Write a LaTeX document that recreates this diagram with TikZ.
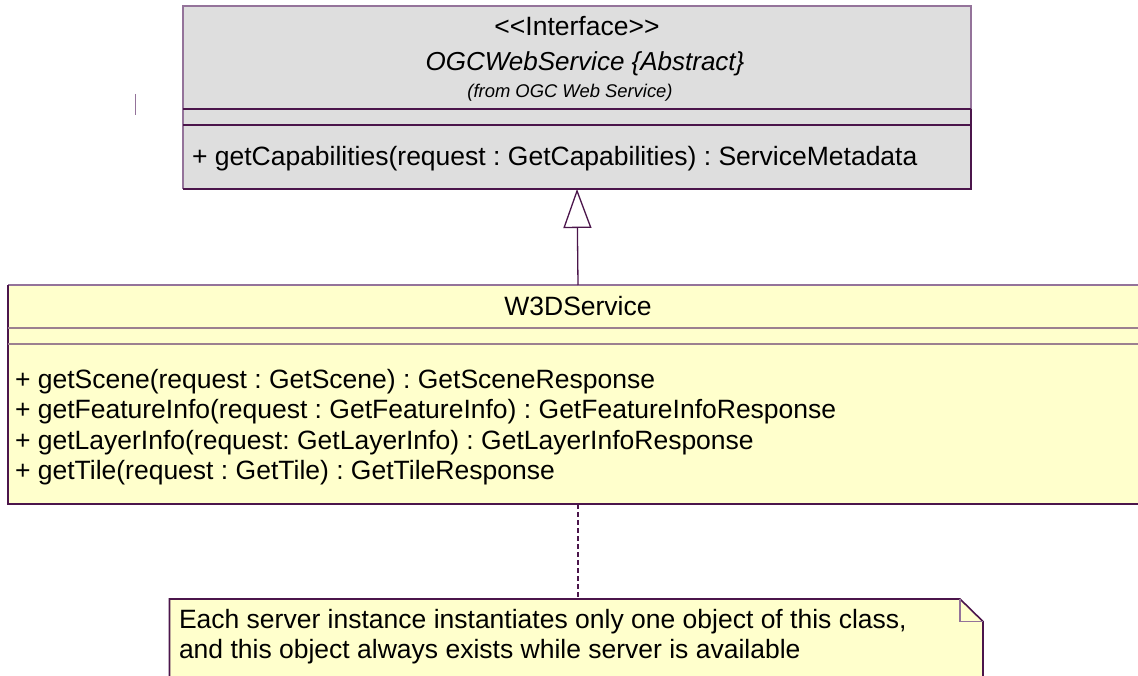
\documentclass[tikz,border=0pt]{standalone}
\usepackage{fontspec}
\setmainfont{Liberation Sans}
\usetikzlibrary{arrows.meta}
\definecolor{umlgray}{HTML}{DEDEDE}
\definecolor{umlyellow}{HTML}{FFFFCC}
\definecolor{edgedark}{HTML}{4B154B}
\definecolor{edgelight}{HTML}{94739A}
\definecolor{seplight}{HTML}{9C8090}
\frenchspacing
\begin{document}
\begin{tikzpicture}[x=1pt,y=-1pt,
  box/.style={inner sep=0pt, outer sep=0pt, anchor=north west},
  txt/.style={inner sep=0pt, outer sep=0pt, font=\fontsize{26.5}{30.5}\selectfont},
  itxt/.style={inner sep=0pt, outer sep=0pt, font=\fontsize{26}{30}\selectfont\itshape},
  small/.style={inner sep=0pt, outer sep=0pt, font=\fontsize{18.4}{21}\selectfont\itshape},
  darkedge/.style={edgedark, line width=1.6pt},
  lightedge/.style={edgelight, line width=1.6pt},
]
\useasboundingbox (0,0) rectangle (1138,676);
\clip (0,0) rectangle (1138,676);

% small stray mark
\draw[edgelight, line width=1.3pt] (135.7,94) -- (135.7,115);

% Interface box
\node[box, fill=umlgray, minimum width=788pt, minimum height=183pt] (iface) at (183,6) {};
\draw[lightedge] (iface.south west) -- (iface.north west) -- (iface.north east) -- (971,109);
\draw[darkedge] (971,109) -- (iface.south east) -- (iface.south west);
\draw[darkedge, line width=1.3pt] (183,109) -- (971,109);
\draw[darkedge, line width=1.3pt] (183,125) -- (971,125);
\node[txt, anchor=base] (stereo) at (577,36) {\mbox{\textless}\mbox{\textless}Interface\mbox{\textgreater}\mbox{\textgreater}};
\node[itxt, anchor=base] (cname) at (585,71) {OGCWebService \{Abstract\}};
\node[small, anchor=base] (from) at (570,98) {(from OGC Web Service)};
\node[txt, anchor=base west] (getcap) at (192,166) {+ getCapabilities(request : GetCapabilities) : ServiceMetadata};

% W3DService box
\node[box, fill=umlyellow, minimum width=1140pt, minimum height=219pt] (w3d) at (8,285) {};
\draw[lightedge] (w3d.north west) -- (w3d.north east);
\draw[darkedge] (w3d.north west) -- (w3d.south west) -- (w3d.south east);
\draw[seplight, line width=1.3pt] (8,328) -- (1148,328);
\draw[seplight, line width=1.3pt] (8,344) -- (1148,344);
\node[txt, anchor=base] (w3dname) at (578,316) {W3DService};
\node[txt, anchor=base west] (m1) at (15,388) {+ getScene(request : GetScene) : GetSceneResponse};
\node[txt, anchor=base west] (m2) at (15,418.5) {+ getFeatureInfo(request : GetFeatureInfo) : GetFeatureInfoResponse};
\node[txt, anchor=base west] (m3) at (15,449) {+ getLayerInfo(request: GetLayerInfo) : GetLayerInfoResponse};
\node[txt, anchor=base west] (m4) at (15,479.5) {+ getTile(request : GetTile) : GetTileResponse};

% generalization
\draw[edgedark, line width=1.3pt, -{Triangle[open, length=39pt, width=28pt]}] (w3d.north) -- (iface.south);

% note
\node[box, minimum width=813.5pt, minimum height=120pt] (note) at (169.5,599) {};
\draw[edgedark, line width=1.2pt, dash pattern=on 5pt off 3pt] (w3d.south) -- (w3d.south |- note.north);
\draw[darkedge, fill=umlyellow] (note.south west) -- (note.north west) -- ([xshift=-23pt]note.north east) -- ([yshift=-22.5pt]note.north east) -- (note.south east);
\draw[lightedge] ([xshift=-23pt]note.north east) -- ([xshift=-23pt, yshift=-22.5pt]note.north east) -- ([yshift=-22.5pt]note.north east);
\node[txt, anchor=base west] (n1) at (179,628) {Each server instance instantiates only one object of this class,};
\node[txt, anchor=base west] (n2) at (179,658.5) {and this object always exists while server is available};
\end{tikzpicture}
\end{document}
